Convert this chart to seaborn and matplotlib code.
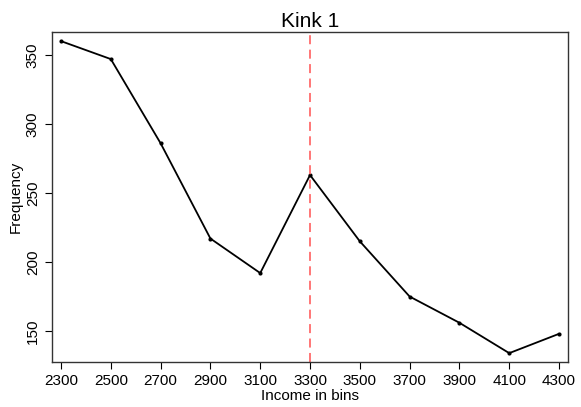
import numpy as np
import pandas as pd
import seaborn as sns
import matplotlib.pyplot as plt

# income bins and counts
income_bins = [2300, 2500, 2700, 2900, 3100, 3300, 3500, 3700, 3900, 4100, 4300]
frequency = [360, 347, 286, 217, 192, 263, 215, 175, 156, 134, 148]
kink_at = 3300

df = pd.DataFrame({'income': income_bins, 'freq': frequency})

sns.set_theme(style="white")
plt.rcParams['font.family'] = ['Liberation Sans', 'DejaVu Sans']
plt.rcParams['text.color'] = 'black'
plt.rcParams['axes.labelcolor'] = 'black'
plt.rcParams['xtick.color'] = 'black'
plt.rcParams['ytick.color'] = 'black'

fig = plt.figure(figsize=(5.81, 4.07), dpi=100)
ax = fig.add_axes([51.7/581, 1 - 361.7/407, (568 - 51.7)/581, (361.7 - 32.3)/407])

sns.lineplot(data=df, x='income', y='freq', color='black', linewidth=1.3,
             marker='o', markersize=3, markeredgewidth=0, ax=ax)
ax.axvline(kink_at, color='#ff6b6b', linestyle=(0, (5, 3)), linewidth=1.3)

ax.set_xlim(2262.6, 4336)
ax.set_ylim(127.8, 366.4)
ax.set_xticks(income_bins)
ax.set_yticks([150, 200, 250, 300, 350])
ax.tick_params(axis='both', direction='out', length=5, width=0.8, color='black',
               labelcolor='black', labelsize=11, bottom=True, left=True)
plt.setp(ax.get_yticklabels(), rotation=90, va='center')
for s in ax.spines.values():
    s.set_color('#333333')
    s.set_linewidth(1.0)

ax.set_xlabel('Income in bins', fontsize=11, labelpad=1, color='black')
ax.set_ylabel('Frequency', fontsize=11, labelpad=2, color='black')
ax.set_title('Kink 1', fontsize=15, pad=4, color='black')

fig.savefig('out.png', dpi=100)
